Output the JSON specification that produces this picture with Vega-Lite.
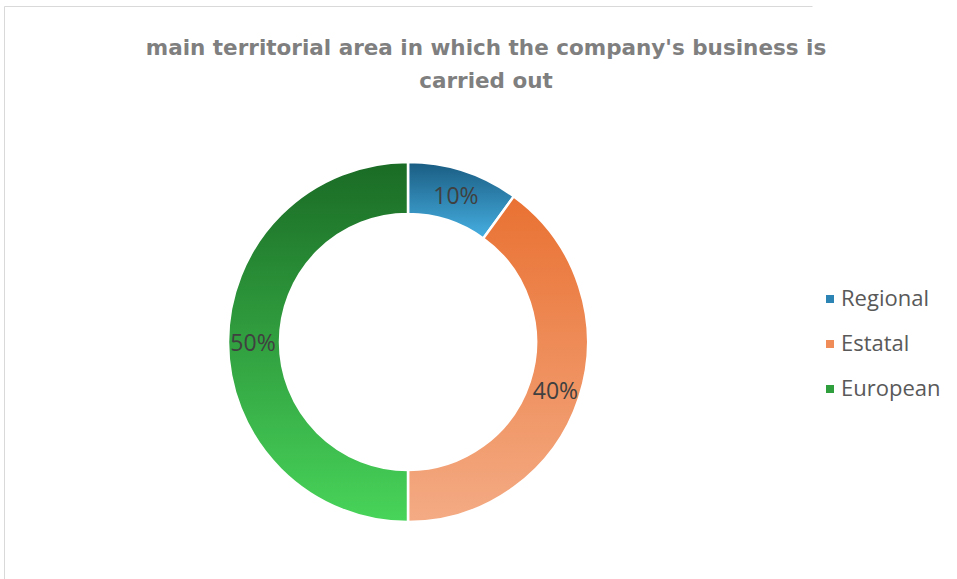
{
  "$schema": "https://vega.github.io/schema/vega-lite/v6.json",
  "autosize": {"type": "none"},
  "padding": {"left": 4, "top": 6, "right": 145, "bottom": 0},
  "width": 808,
  "height": 672,
  "background": "#ffffff",
  "view": {"stroke": "#d9d9d9", "strokeWidth": 1, "strokeDash": [808, 1480, 672, 0]},
  "title": {
    "text": ["main territorial area in which the company's business is", "carried out"],
    "font": "DejaVu Sans",
    "fontSize": 21.5,
    "fontWeight": "bold",
    "color": "#7f7f7f",
    "anchor": "middle",
    "frame": "group",
    "baseline": "alphabetic",
    "offset": 0,
    "dx": 78,
    "dy": 103,
    "lineHeight": 33
  },
  "data": {
    "values": [
      {"area": "Regional", "value": 10, "label": "10%", "order": 1},
      {"area": "Estatal", "value": 40, "label": "40%", "order": 2},
      {"area": "European", "value": 50, "label": "50%", "order": 3}
    ]
  },
  "transform": [
    {"stack": "value", "groupby": [], "sort": [{"field": "order", "order": "ascending"}], "as": ["v0", "v1"]}
  ],
  "layer": [
    {
      "mark": {"type": "arc", "outerRadius": 180, "innerRadius": 128, "stroke": "#ffffff", "strokeWidth": 2.5},
      "encoding": {
        "theta": {"field": "v0", "type": "quantitative", "scale": {"domain": [0, 100]}},
        "theta2": {"field": "v1"},
        "color": {
          "field": "area",
          "type": "nominal",
          "sort": null,
          "scale": {
            "domain": ["Regional", "Estatal", "European"],
            "range": ["#2c84b4", "#ef8c58", "#2f9e3d"]
          },
          "legend": {
            "title": null,
            "orient": "none",
            "legendX": 815,
            "legendY": 282,
            "symbolType": "square",
            "symbolSize": 64,
            "symbolStrokeWidth": 0,
            "labelFont": "Open Sans",
            "labelFontSize": 22,
            "labelColor": "#595959",
            "labelOffset": 0,
            "rowPadding": 23
          }
        }
      }
    },
    {
      "transform": [{"filter": "datum.area === 'Regional'"}],
      "mark": {"type": "arc", "outerRadius": 180, "innerRadius": 128, "stroke": "#ffffff", "strokeWidth": 2.5,
        "color": {"gradient": "linear", "x1": 0, "y1": 0, "x2": 0, "y2": 1, "stops": [{"offset": 0, "color": "#1a5c82"}, {"offset": 1, "color": "#46b0e2"}]}},
      "encoding": {
        "theta": {"field": "v0", "type": "quantitative"},
        "theta2": {"field": "v1"}
      }
    },
    {
      "transform": [{"filter": "datum.area === 'Estatal'"}],
      "mark": {"type": "arc", "outerRadius": 180, "innerRadius": 128, "stroke": "#ffffff", "strokeWidth": 2.5,
        "color": {"gradient": "linear", "x1": 0, "y1": 0, "x2": 0, "y2": 1, "stops": [{"offset": 0, "color": "#e97132"}, {"offset": 1, "color": "#f4ab84"}]}},
      "encoding": {
        "theta": {"field": "v0", "type": "quantitative"},
        "theta2": {"field": "v1"}
      }
    },
    {
      "transform": [{"filter": "datum.area === 'European'"}],
      "mark": {"type": "arc", "outerRadius": 180, "innerRadius": 128, "stroke": "#ffffff", "strokeWidth": 2.5,
        "color": {"gradient": "linear", "x1": 0, "y1": 0, "x2": 0, "y2": 1, "stops": [{"offset": 0, "color": "#1a6b25"}, {"offset": 1, "color": "#48d45a"}]}},
      "encoding": {
        "theta": {"field": "v0", "type": "quantitative"},
        "theta2": {"field": "v1"}
      }
    },
    {
      "mark": {"type": "text", "radius": 155, "font": "Open Sans", "fontSize": 23, "dy": 2, "color": "#404040"},
      "encoding": {
        "theta": {"field": "value", "type": "quantitative", "stack": true},
        "order": {"field": "order", "type": "ordinal"},
        "text": {"field": "label", "type": "nominal"}
      }
    }
  ]
}
